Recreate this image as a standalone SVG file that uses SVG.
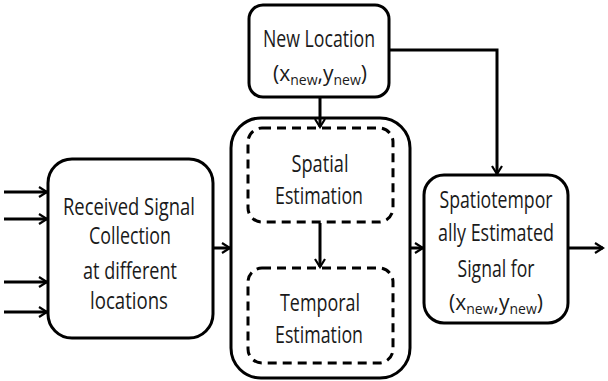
<svg xmlns="http://www.w3.org/2000/svg" width="608" height="381" viewBox="0 0 608 381">
  <style>
    .box { fill: #ffffff; stroke: #000000; stroke-width: 3; }
    .dash { fill: none; stroke: #000000; stroke-width: 3; stroke-dasharray: 9 6; }
    .wire { fill: none; stroke: #000000; stroke-width: 3; marker-end: url(#arrow); }
    text { font-family: "Open Sans", "Liberation Sans", sans-serif; font-size: 23px; fill: #1a1a1a; text-anchor: middle; }
    .coord { font-size: 21px; }
    .sub { font-size: 14px; }
  </style>
  <defs>
    <marker id="arrow" viewBox="0 0 12 12" refX="10" refY="6" markerWidth="4" markerHeight="4" markerUnits="strokeWidth" orient="auto">
      <path d="M2,1 L10,6 L2,11" fill="none" stroke="#000000" stroke-width="2.2" stroke-linejoin="miter"/>
    </marker>
  </defs>

  <rect width="608" height="381" fill="#ffffff"/>

  <!-- input node -->
  <g id="collection">
    <rect class="box" x="48" y="159" width="165" height="179" rx="24"/>
    <text x="129" y="215" textLength="132" lengthAdjust="spacingAndGlyphs">Received Signal</text>
    <text x="130" y="244" textLength="82" lengthAdjust="spacingAndGlyphs">Collection</text>
    <text x="130" y="279" textLength="94" lengthAdjust="spacingAndGlyphs">at different</text>
    <text x="129" y="309" textLength="78" lengthAdjust="spacingAndGlyphs">locations</text>
  </g>

  <!-- new location node -->
  <g id="new-location">
    <rect class="box" x="249" y="5" width="140" height="92" rx="14"/>
    <text x="319" y="47" textLength="112" lengthAdjust="spacingAndGlyphs">New Location</text>
    <text class="coord" x="320" y="81">(x<tspan class="sub" dy="4">new</tspan><tspan dy="-4">,y</tspan><tspan class="sub" dy="4">new</tspan><tspan dy="-4">)</tspan></text>
  </g>

  <!-- estimation block -->
  <g id="estimation">
    <rect class="box" x="231" y="118" width="179" height="260" rx="30"/>
    <g id="spatial">
      <rect class="dash" x="248" y="128" width="145" height="94" rx="14"/>
      <text x="320" y="172" textLength="57" lengthAdjust="spacingAndGlyphs">Spatial</text>
      <text x="319" y="204" textLength="88" lengthAdjust="spacingAndGlyphs">Estimation</text>
    </g>
    <g id="temporal">
      <rect class="dash" x="248" y="268" width="145" height="95" rx="14"/>
      <text x="320" y="311" textLength="80" lengthAdjust="spacingAndGlyphs">Temporal</text>
      <text x="319" y="343" textLength="88" lengthAdjust="spacingAndGlyphs">Estimation</text>
    </g>
  </g>

  <!-- output node -->
  <g id="output">
    <rect class="box" x="424" y="175" width="144" height="148" rx="20"/>
    <text x="496" y="208" textLength="113" lengthAdjust="spacingAndGlyphs">Spatiotempor</text>
    <text x="496" y="241" textLength="116" lengthAdjust="spacingAndGlyphs">ally Estimated</text>
    <text x="496" y="277" textLength="77" lengthAdjust="spacingAndGlyphs">Signal for</text>
    <text class="coord" x="496" y="310">(x<tspan class="sub" dy="4">new</tspan><tspan dy="-4">,y</tspan><tspan class="sub" dy="4">new</tspan><tspan dy="-4">)</tspan></text>
  </g>

  <!-- connectors, drawn over the boxes so the arrowheads stay visible -->
  <g id="connectors">
    <line class="wire" x1="4" y1="192" x2="47" y2="192"/>
    <line class="wire" x1="4" y1="219" x2="47" y2="219"/>
    <line class="wire" x1="4" y1="282" x2="47" y2="282"/>
    <line class="wire" x1="4" y1="312" x2="47" y2="312"/>
    <line class="wire" x1="214" y1="248" x2="230" y2="248"/>
    <line class="wire" x1="320" y1="98" x2="320" y2="127"/>
    <line class="wire" x1="320" y1="223" x2="320" y2="267"/>
    <line class="wire" x1="411" y1="248" x2="423" y2="248"/>
    <polyline class="wire" points="390,50 497,50 497,174"/>
    <line class="wire" x1="569" y1="248" x2="603" y2="248"/>
  </g>
</svg>
